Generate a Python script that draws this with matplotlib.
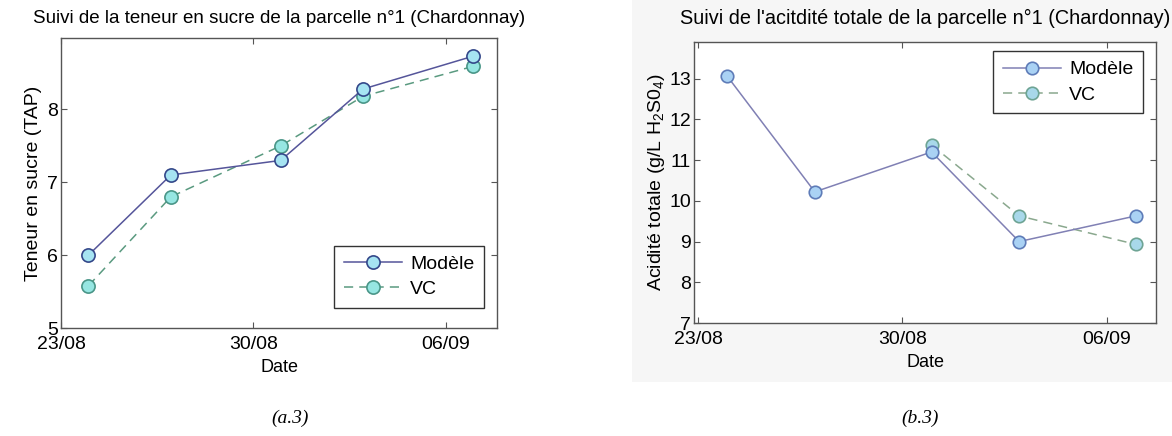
import pandas as pd
import numpy as np
import matplotlib
matplotlib.use("Agg")
import matplotlib.pyplot as plt
import matplotlib.dates as mdates
from matplotlib.patches import Rectangle

plt.rcParams['font.family'] = ['Liberation Sans', 'DejaVu Sans']
plt.rcParams['mathtext.fontset'] = 'custom'
plt.rcParams['mathtext.rm'] = 'Liberation Sans'
plt.rcParams['mathtext.it'] = 'Liberation Sans'

# sampling dates
dates = pd.to_datetime(['2012-08-24', '2012-08-27', '2012-08-31', '2012-09-03', '2012-09-07'])
tick_dates = pd.to_datetime(['2012-08-23', '2012-08-30', '2012-09-06'])

# sugar content (TAP)
sucre_modele = [6.0, 7.1, 7.3, 8.28, 8.73]
sucre_vc = [5.58, 6.8, 7.5, 8.18, 8.59]

# total acidity (g/L H2SO4)
acid_modele = [13.06, 10.22, 11.2, 9.0, 9.63]
acid_vc_dates = dates[2:]
acid_vc = [11.37, 9.63, 8.93]

W, H = 1172, 436
fig = plt.figure(figsize=(W / 100, H / 100), dpi=100)
fig.patch.set_facecolor('white')

# light grey background of the second screenshot
bg = Rectangle((632 / W, 1 - 382 / H), 540 / W, 382 / H,
               transform=fig.transFigure, facecolor='#f6f6f6',
               edgecolor='none', zorder=-5)
fig.add_artist(bg)


def px_axes(x0, y0, x1, y1):
    return fig.add_axes([x0 / W, 1 - y1 / H, (x1 - x0) / W, (y1 - y0) / H])


def style_axes(ax):
    for s in ax.spines.values():
        s.set_color('#555555')
        s.set_linewidth(1.0)
    ax.tick_params(direction='in', top=True, right=True, length=4,
                   width=0.8, color='#555555', labelsize=14, pad=2)
    ax.tick_params(axis='x', pad=6)
    ax.set_xticks(tick_dates)
    ax.xaxis.set_major_formatter(mdates.DateFormatter('%d/%m'))
    ax.set_xlabel('Date', fontsize=13, labelpad=4)


def add_legend(ax, loc, anchor):
    leg = ax.legend(loc=loc, bbox_to_anchor=anchor, fontsize=14,
                    fancybox=False, framealpha=1, edgecolor='#333333',
                    handlelength=3.0, borderpad=0.5, labelspacing=0.4,
                    handletextpad=0.4, borderaxespad=0)
    leg.get_frame().set_linewidth(1.0)
    return leg


# (a.3) sugar
ax1 = px_axes(61, 38, 497, 328)
ax1.plot(dates, sucre_modele, '-o', color='#55559a', lw=1.1, ms=9.5,
         mfc='#a6e4f2', mec='#34488a', mew=1.2, label='Modèle', zorder=3)
ax1.plot(dates, sucre_vc, '--o', color='#5a9a80', lw=1.1, ms=9.5,
         mfc='#96e6e2', mec='#4a9688', mew=1.2, label='VC', zorder=2,
         dashes=(6, 4))
style_axes(ax1)
ax1.set_xlim(pd.Timestamp('2012-08-23'), pd.Timestamp('2012-09-07 21:00'))
ax1.set_ylim(5, 8.98)
ax1.set_yticks([5, 6, 7, 8])
ax1.set_ylabel('Teneur en sucre (TAP)', fontsize=14, labelpad=4)
ax1.set_title('Suivi de la teneur en sucre de la parcelle n°1 (Chardonnay)',
              fontsize=13.5, pad=11)
add_legend(ax1, 'lower right', (0.97, 0.069))

# (b.3) acidity
ax2 = px_axes(694, 42, 1156, 323)
ax2.set_zorder(2)
ax2.plot(dates, acid_modele, '-o', color='#8080b4', lw=1.1, ms=9,
         mfc='#aad2f4', mec='#5e7cb8', mew=1.2, label='Modèle', zorder=3)
ax2.plot(acid_vc_dates, acid_vc, '--o', color='#8aa88e', lw=1.1, ms=9,
         mfc='#a8d8ea', mec='#6ea494', mew=1.2, label='VC', zorder=2,
         dashes=(6, 4))
style_axes(ax2)
ax2.set_xlim(pd.Timestamp('2012-08-22 20:40'), pd.Timestamp('2012-09-07 16:30'))
ax2.set_ylim(7, 13.9)
ax2.set_yticks(range(7, 14))
ax2.set_ylabel('Acidité totale (g/L H$_2$S0$_4$)', fontsize=14, labelpad=2)
ax2.set_title("Suivi de l'acitdité totale de la parcelle n°1 (Chardonnay)",
              fontsize=14.3, pad=13)
add_legend(ax2, 'upper right', (0.972, 0.968))

# captions
fig.text(290 / W, 1 - 418 / H, '(a.3)', fontsize=14, style='italic',
         family='Liberation Serif', ha='center', va='center')
fig.text(920 / W, 1 - 418 / H, '(b.3)', fontsize=14, style='italic',
         family='Liberation Serif', ha='center', va='center')

fig.savefig('out.png', dpi=100)
